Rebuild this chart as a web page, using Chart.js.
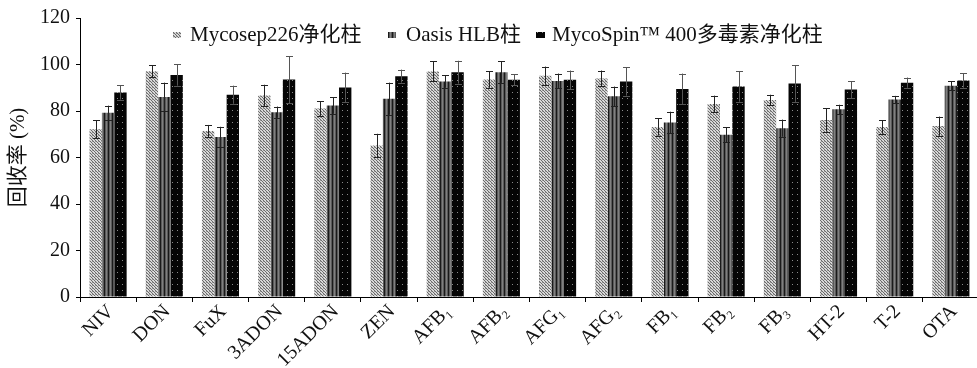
<!DOCTYPE html>
<html>
<head>
<meta charset="utf-8">
<script src="https://cdn.jsdelivr.net/npm/chart.js@4.4.0/dist/chart.umd.min.js"></script>
<style>
html,body{margin:0;padding:0;background:#fff;overflow:hidden;}
#wrap{position:relative;width:980px;height:368px;}
</style>
</head>
<body>
<div id="wrap"><canvas id="c"></canvas></div>
<script>
const categories = ['NIV','DON','FuX','3ADON','15ADON','ZEN','AFB₁','AFB₂','AFG₁','AFG₂','FB₁','FB₂','FB₃','HT-2','T-2','OTA'];
const seriesNames = ['Mycosep226净化柱','Oasis HLB柱','MycoSpin™ 400多毒素净化柱'];
const mycosep = [72.1,97.1,71.4,86.7,81.1,65.2,97.0,93.5,95.2,94.0,73.1,83.0,84.7,76.1,73.1,73.5];
const mycosepErr = [3.9,2.6,2.6,4.6,3.2,5.0,4.3,3.5,3.9,3.4,3.7,3.6,2.3,5.0,2.9,4.1];
const oasis = [79.3,86.0,68.8,79.5,82.4,85.3,92.7,96.7,92.9,86.3,75.1,69.8,72.6,80.7,84.9,90.9];
const oasisErr = [3.0,6.2,4.4,2.4,3.6,6.9,2.7,4.6,3.2,4.2,4.6,3.3,3.7,2.0,1.6,1.9];
const mycospin = [88.0,95.5,87.0,93.5,90.1,95.0,96.7,93.4,93.4,92.7,89.5,90.5,91.8,89.2,92.2,93.1];
const mycospinErr = [3.1,4.6,3.9,10.1,6.4,2.8,4.9,2.3,4.0,6.1,6.6,6.5,7.9,3.6,2.2,3.1];
const yTicks = [0,20,40,60,80,100,120];

const FONT = "'Liberation Serif','Noto Sans CJK SC',serif";

function makePattern(w,h,bg,pixels){
  const c=document.createElement('canvas');c.width=w;c.height=h;
  const g=c.getContext('2d');g.fillStyle=bg;g.fillRect(0,0,w,h);
  pixels.forEach(p=>{g.fillStyle=p[2];g.fillRect(p[0],p[1],p[3]||1,p[4]||1);});
  return g.createPattern(c,'repeat');
}
const ctx=document.getElementById('c').getContext('2d');
const pat1 = makePattern(3,3,'#d8d8d8',[[0,0,'#6a6a6a'],[1,1,'#6a6a6a'],[2,2,'#6a6a6a'],[2,0,'#9a9a9a']]);
const pat2 = makePattern(4,1,'#5a5a5a',[[0,0,'#1a1a1a'],[2,0,'#808080']]);
const pat3 = makePattern(5,6,'#050505',[[2,2,'#8a8a8a']]);
const pats=[pat1,pat2,pat3];
const errs=[mycosepErr,oasisErr,mycospinErr];

const errorBars={
  id:'errorBars',
  afterDatasetsDraw(chart){
    const g=chart.ctx, y=chart.scales.y;
    g.save();g.lineWidth=1;
    chart.data.datasets.forEach((ds,di)=>{
      const meta=chart.getDatasetMeta(di);
      g.strokeStyle = di===2 ? '#555' : '#222';
      meta.data.forEach((bar,i)=>{
        const v=ds.data[i], e=errs[di][i];
        const x=Math.round(bar.x)+0.5;
        const yt=y.getPixelForValue(v+e), yb=y.getPixelForValue(v-e);
        g.beginPath();
        g.moveTo(x,yt);g.lineTo(x,yb);
        g.moveTo(x-3.5,Math.round(yt)+0.5);g.lineTo(x+3.5,Math.round(yt)+0.5);
        g.moveTo(x-3.5,Math.round(yb)+0.5);g.lineTo(x+3.5,Math.round(yb)+0.5);
        g.stroke();
      });
    });
    g.restore();
  }
};

const customLegend={
  id:'customLegend',
  afterDraw(chart){
    const g=chart.ctx;
    const markerX=[173,388,536], markerW=[8,8,9], textX=[190,406,552], baseY=41;
    g.save();
    g.font="21px "+FONT;g.textBaseline='alphabetic';
    chart.data.datasets.forEach((ds,i)=>{
      g.fillStyle=pats[i];
      g.fillRect(markerX[i],32,markerW[i],6);
      g.fillStyle='#111';
      g.fillText(ds.label,textX[i],baseY);
    });
    g.restore();
  }
};

new Chart(ctx,{
  type:'bar',
  data:{
    labels:categories,
    datasets:[
      {label:seriesNames[0],data:mycosep,backgroundColor:pat1,borderWidth:0},
      {label:seriesNames[1],data:oasis,backgroundColor:pat2,borderWidth:0},
      {label:seriesNames[2],data:mycospin,backgroundColor:pat3,borderWidth:0}
    ]
  },
  options:{
    responsive:true,maintainAspectRatio:false,animation:false,
    devicePixelRatio:1,
    layout:{padding:{top:18,left:0,right:1,bottom:0}},
    datasets:{bar:{categoryPercentage:0.66,barPercentage:1.0}},
    plugins:{legend:{display:false},tooltip:{enabled:false}},
    scales:{
      x:{
        grid:{offset:true,drawOnChartArea:false,drawTicks:true,tickLength:5,color:'#000'},
        border:{display:true,color:'#000',width:1},
        ticks:{color:'#111',font:{family:FONT,size:20},maxRotation:45,minRotation:45,padding:-2,labelOffset:3,autoSkip:false},
        afterFit(s){s.height=71;}
      },
      y:{
        min:0,max:120,
        afterBuildTicks(s){s.ticks=yTicks.map(v=>({value:v}));},
        grid:{drawOnChartArea:false,drawTicks:true,tickLength:4,color:'#000'},
        border:{display:true,color:'#000',width:1},
        ticks:{color:'#111',font:{family:FONT,size:20},padding:6},
        title:{display:true,text:'回收率 (%)',color:'#111',font:{family:FONT,size:21},padding:{top:6,bottom:0}},
        afterFit(s){s.width=80;}
      }
    }
  },
  plugins:[errorBars,customLegend]
});
</script>
</body>
</html>
